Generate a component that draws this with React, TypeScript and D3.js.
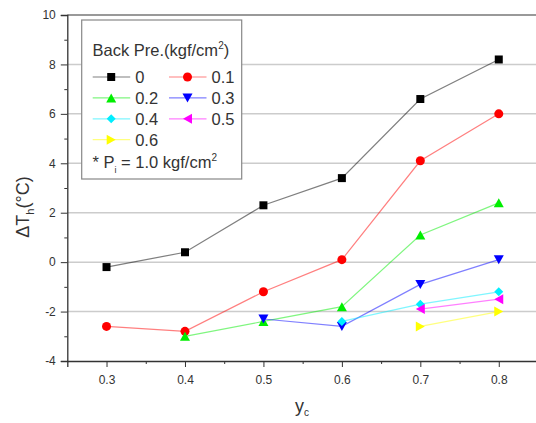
import React, { useRef, useEffect } from "react";
import * as d3 from "d3";

// y_c positions
const xs = [0.3, 0.4, 0.5, 0.6, 0.7, 0.8];

// back pressure series (kgf/cm2), values of ΔT_h; null = no point
const bp0 = [-0.2, 0.4, 2.3, 3.4, 6.6, 8.2];
const bp01 = [-2.6, -2.8, -1.2, 0.1, 4.1, 6.0];
const bp02 = [null, -3.0, -2.4, -1.8, 1.1, 2.4];
const bp03 = [null, null, -2.3, -2.6, -0.9, 0.1];
const bp04 = [null, null, null, -2.4, -1.7, -1.2];
const bp05 = [null, null, null, null, -1.9, -1.5];
const bp06 = [null, null, null, null, -2.6, -2.0];

const labels = ["0", "0.1", "0.2", "0.3", "0.4", "0.5", "0.6"];
const colors = ["#000000", "#ff0000", "#00ee00", "#0000ff", "#00eeff", "#ff00ff", "#ffff00"];
const shapes = ["square", "circle", "up", "down", "diamond", "left", "right"];

const yTicks = [-4, -2, 0, 2, 4, 6, 8, 10];
const xTicks = [0.3, 0.4, 0.5, 0.6, 0.7, 0.8];

const W = 536,
  H = 423;

function markerPath(shape: string) {
  const s = 4.5;
  switch (shape) {
    case "square":
      return `M${-4},${-4}h8v8h-8z`;
    case "circle":
      return d3.symbol(d3.symbolCircle, 64)()!;
    case "up":
      return `M0,${-s}L${s + 0.5},${s}L${-s - 0.5},${s}z`;
    case "down":
      return `M0,${s}L${s + 0.5},${-s}L${-s - 0.5},${-s}z`;
    case "diamond":
      return `M0,${-s}L${s},0L0,${s}L${-s},0z`;
    case "left":
      return `M${-s},0L${s},${-s - 0.5}L${s},${s + 0.5}z`;
    default:
      return `M${s},0L${-s},${-s - 0.5}L${-s},${s + 0.5}z`;
  }
}

export default function App() {
  const ref = useRef<SVGSVGElement>(null);

  useEffect(() => {
    document.body.style.margin = "0";
    const svg = d3.select(ref.current);
    svg.selectAll("*").remove();

    const font = "Liberation Sans, Arial, sans-serif";
    const x = d3.scaleLinear().domain([0.25, 0.85]).range([67.3, 538]);
    const y = d3.scaleLinear().domain([-4, 10]).range([361, 15]);
    const fmtY = (d: any) => String(d);

    // grid
    svg
      .append("g")
      .selectAll("line")
      .data(yTicks.filter((t) => t > -4 && t < 10))
      .enter()
      .append("line")
      .attr("x1", x(0.25))
      .attr("x2", W)
      .attr("y1", (d) => y(d))
      .attr("y2", (d) => y(d))
      .attr("stroke", "#cccccc")
      .attr("stroke-width", 1.5);

    // top frame
    svg
      .append("line")
      .attr("x1", x(0.25))
      .attr("x2", W)
      .attr("y1", y(10))
      .attr("y2", y(10))
      .attr("stroke", "#777")
      .attr("stroke-width", 1.5);

    // y axis
    const yAxis = svg
      .append("g")
      .attr("transform", `translate(${x(0.25)},0)`)
      .call(d3.axisLeft(y).tickValues(yTicks).tickSize(6.5).tickPadding(5).tickFormat(fmtY));
    yAxis.select(".domain").attr("stroke", "#333").attr("stroke-width", 1.3);
    yAxis.selectAll(".tick line").attr("stroke", "#333");
    yAxis
      .selectAll("text")
      .attr("font-family", font)
      .attr("font-size", 12)
      .attr("fill", "#333");
    svg
      .append("g")
      .attr("transform", `translate(${x(0.25)},0)`)
      .call(d3.axisLeft(y).tickValues([-3, -1, 1, 3, 5, 7, 9]).tickSize(3).tickFormat(() => ""))
      .call((g) => g.select(".domain").remove())
      .selectAll("line")
      .attr("stroke", "#333");

    // x axis
    const xAxis = svg
      .append("g")
      .attr("transform", `translate(0,${y(-4)})`)
      .call(
        d3
          .axisBottom(x)
          .tickValues(xTicks)
          .tickSize(6)
          .tickPadding(8)
          .tickFormat(d3.format(".1f"))
      );
    xAxis.select(".domain").attr("stroke", "#333").attr("stroke-width", 1.3);
    xAxis.selectAll(".tick line").attr("stroke", "#333");
    xAxis
      .selectAll("text")
      .attr("font-family", font)
      .attr("font-size", 12)
      .attr("fill", "#333");
    svg
      .append("g")
      .attr("transform", `translate(0,${y(-4)})`)
      .call(d3.axisBottom(x).tickValues([0.35, 0.45, 0.55, 0.65, 0.75]).tickSize(3).tickFormat(() => ""))
      .call((g) => g.select(".domain").remove())
      .selectAll("line")
      .attr("stroke", "#333");

    // axis titles
    const yl = svg
      .append("text")
      .attr("transform", `translate(29,207) rotate(-90)`)
      .attr("text-anchor", "middle")
      .attr("font-family", font)
      .attr("font-size", 18)
      .attr("fill", "#333");
    yl.append("tspan").text("ΔT");
    yl.append("tspan").attr("font-size", 11).attr("dy", 5).text("h");
    yl.append("tspan").attr("dy", -5).text("(°C)");

    const xl = svg
      .append("text")
      .attr("x", 295)
      .attr("y", 412)
      .attr("font-family", font)
      .attr("font-size", 18)
      .attr("fill", "#333");
    xl.append("tspan").text("y");
    xl.append("tspan").attr("font-size", 10).attr("dy", 4).text("c");

    // series
    const series = [bp0, bp01, bp02, bp03, bp04, bp05, bp06];
    const line = d3
      .line<[number, number | null]>()
      .defined((d) => d[1] !== null)
      .x((d) => x(d[0]))
      .y((d) => y(d[1] as number));

    series.forEach((vals, i) => {
      const pts = xs.map((v, k) => [v, vals[k]] as [number, number | null]);
      svg
        .append("path")
        .attr("d", line(pts))
        .attr("fill", "none")
        .attr("stroke", colors[i])
        .attr("stroke-opacity", 0.5)
        .attr("stroke-width", 1.2);
      svg
        .append("g")
        .selectAll("path")
        .data(pts.filter((d) => d[1] !== null))
        .enter()
        .append("path")
        .attr("d", markerPath(shapes[i]))
        .attr("transform", (d) => `translate(${x(d[0])},${y(d[1] as number)})`)
        .attr("fill", colors[i]);
    });

    // legend
    const lg = svg.append("g");
    lg.append("rect")
      .attr("x", 81.7)
      .attr("y", 20)
      .attr("width", 160)
      .attr("height", 159)
      .attr("fill", "#fff")
      .attr("stroke", "#888")
      .attr("stroke-width", 1.2);
    const title = lg
      .append("text")
      .attr("x", 92.5)
      .attr("y", 56)
      .attr("font-family", font)
      .attr("font-size", 16.5)
      .attr("fill", "#333");
    title.append("tspan").text("Back Pre.(kgf/cm");
    title.append("tspan").attr("font-size", 10).attr("dy", -7).text("2");
    title.append("tspan").attr("dy", 7).text(")");

    labels.forEach((lab, i) => {
      const col = i % 2;
      const row = Math.floor(i / 2);
      const x0 = col === 0 ? 92.7 : 169;
      const cy = 77 + row * 20.9;
      lg.append("line")
        .attr("x1", x0)
        .attr("x2", x0 + 37.5)
        .attr("y1", cy)
        .attr("y2", cy)
        .attr("stroke", colors[i])
        .attr("stroke-opacity", 0.5)
        .attr("stroke-width", 1.2);
      lg.append("path")
        .attr("d", markerPath(shapes[i]))
        .attr("transform", `translate(${x0 + 18.5},${cy})`)
        .attr("fill", colors[i]);
      lg.append("text")
        .attr("x", x0 + 42.5)
        .attr("y", cy + 6)
        .attr("font-family", font)
        .attr("font-size", 16.5)
        .attr("fill", "#333")
        .text(lab);
    });

    const note = lg
      .append("text")
      .attr("x", 92.5)
      .attr("y", 168)
      .attr("font-family", font)
      .attr("font-size", 16.5)
      .attr("fill", "#333");
    note.append("tspan").text("* P");
    note.append("tspan").attr("font-size", 9).attr("dy", 5).text("i");
    note.append("tspan").attr("dy", -5).text(" = 1.0 kgf/cm");
    note.append("tspan").attr("font-size", 10).attr("dy", -7).text("2");
  }, []);

  return (
    <div style={{ width: W, height: H }}>
      <svg ref={ref} width={W} height={H} style={{ display: "block", background: "#fff" }} />
    </div>
  );
}
